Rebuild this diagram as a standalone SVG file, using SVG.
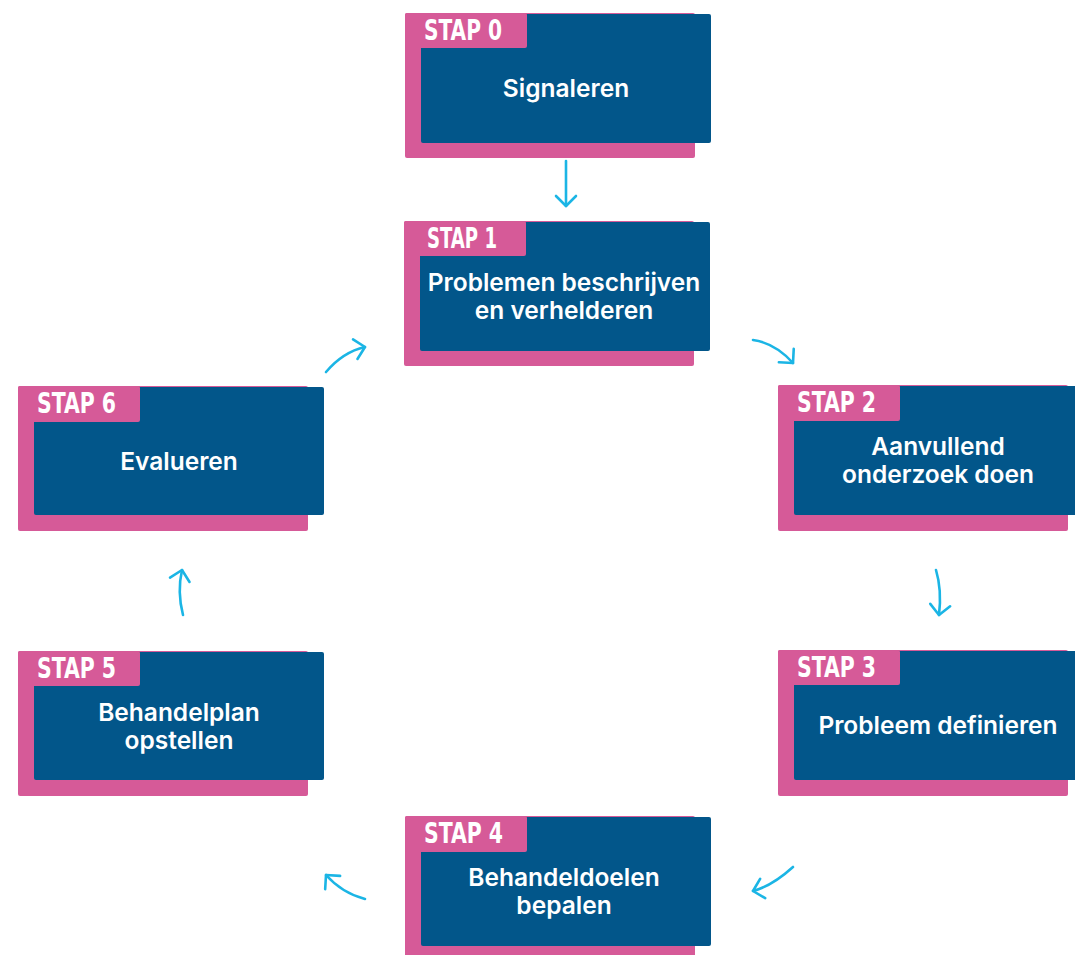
<svg xmlns="http://www.w3.org/2000/svg" width="1075" height="955" viewBox="0 0 1075 955">
<defs>
<style>
.pink{fill:#D65A98}
.blue{fill:#02568A}
.tab{font-family:"DejaVu Sans Condensed","DejaVu Sans",sans-serif;font-weight:bold;font-size:28px;fill:#FFFFFF}
.lbl{font-family:Inter,"Noto Sans",sans-serif;font-weight:600;font-size:24.5px;fill:#FFFFFF;text-anchor:middle}
.conn{fill:none;stroke:#1BB5E5;stroke-width:2.6;stroke-linecap:round;marker-end:url(#head)}
</style>
<marker id="head" viewBox="-13 -12 15 24" refX="0" refY="0" markerWidth="15" markerHeight="24" markerUnits="userSpaceOnUse" orient="auto">
<path d="M -10 -10 L 0 0 L -10 10" fill="none" stroke="#1BB5E5" stroke-width="2.6" stroke-linecap="round" stroke-linejoin="round"/>
</marker>
</defs>
<rect width="1075" height="955" fill="#FFFFFF"/>

<g id="connectors">
<path class="conn" d="M 566 161 L 566 206"/>
<path class="conn" d="M 753 340 Q 775 343 793 363"/>
<path class="conn" d="M 936 570 Q 942 590 939 615"/>
<path class="conn" d="M 793 867 Q 772 886 753 891"/>
<path class="conn" d="M 365 899 Q 342 893 326 875"/>
<path class="conn" d="M 183 615 Q 177 592 182 570"/>
<path class="conn" d="M 326 372 Q 343 352 365 347"/>
</g>

<g id="stap0">
<rect class="pink" x="405" y="13" width="290" height="145" rx="2"/>
<rect class="blue" x="421" y="14" width="290" height="129" rx="2"/>
<rect class="pink" x="405" y="13" width="122" height="35" rx="2"/>
<text class="tab" x="424" y="40" textLength="78" lengthAdjust="spacingAndGlyphs">STAP 0</text>
<text class="lbl" x="566" y="97">Signaleren</text>
</g>

<g id="stap1">
<rect class="pink" x="404" y="221" width="290" height="145" rx="2"/>
<rect class="blue" x="420" y="222" width="290" height="129" rx="2"/>
<rect class="pink" x="404" y="221" width="122" height="35" rx="2"/>
<text class="tab" x="427" y="248" textLength="70" lengthAdjust="spacingAndGlyphs">STAP 1</text>
<text class="lbl" x="564" y="291">Problemen beschrijven</text>
<text class="lbl" x="564" y="319">en verhelderen</text>
</g>

<g id="stap2">
<rect class="pink" x="778" y="385" width="290" height="146" rx="2"/>
<rect class="blue" x="794" y="386" width="290" height="129" rx="2"/>
<rect class="pink" x="778" y="385" width="122" height="36" rx="2"/>
<text class="tab" x="797" y="412" textLength="79" lengthAdjust="spacingAndGlyphs">STAP 2</text>
<text class="lbl" x="938" y="455">Aanvullend</text>
<text class="lbl" x="938" y="483">onderzoek doen</text>
</g>

<g id="stap3">
<rect class="pink" x="778" y="650" width="290" height="146" rx="2"/>
<rect class="blue" x="794" y="651" width="290" height="129" rx="2"/>
<rect class="pink" x="778" y="650" width="122" height="35" rx="2"/>
<text class="tab" x="797" y="677" textLength="79" lengthAdjust="spacingAndGlyphs">STAP 3</text>
<text class="lbl" x="938" y="734">Probleem definieren</text>
</g>

<g id="stap4">
<rect class="pink" x="405" y="816" width="290" height="145" rx="2"/>
<rect class="blue" x="421" y="817" width="290" height="129" rx="2"/>
<rect class="pink" x="405" y="816" width="122" height="36" rx="2"/>
<text class="tab" x="424" y="843" textLength="79" lengthAdjust="spacingAndGlyphs">STAP 4</text>
<text class="lbl" x="564" y="886">Behandeldoelen</text>
<text class="lbl" x="564" y="914">bepalen</text>
</g>

<g id="stap5">
<rect class="pink" x="18" y="651" width="290" height="145" rx="2"/>
<rect class="blue" x="34" y="652" width="290" height="128" rx="2"/>
<rect class="pink" x="18" y="651" width="122" height="35" rx="2"/>
<text class="tab" x="37" y="678" textLength="79" lengthAdjust="spacingAndGlyphs">STAP 5</text>
<text class="lbl" x="179" y="721">Behandelplan</text>
<text class="lbl" x="179" y="749">opstellen</text>
</g>

<g id="stap6">
<rect class="pink" x="18" y="386" width="290" height="145" rx="2"/>
<rect class="blue" x="34" y="387" width="290" height="128" rx="2"/>
<rect class="pink" x="18" y="386" width="122" height="36" rx="2"/>
<text class="tab" x="37" y="413" textLength="79" lengthAdjust="spacingAndGlyphs">STAP 6</text>
<text class="lbl" x="179" y="470">Evalueren</text>
</g>
</svg>
